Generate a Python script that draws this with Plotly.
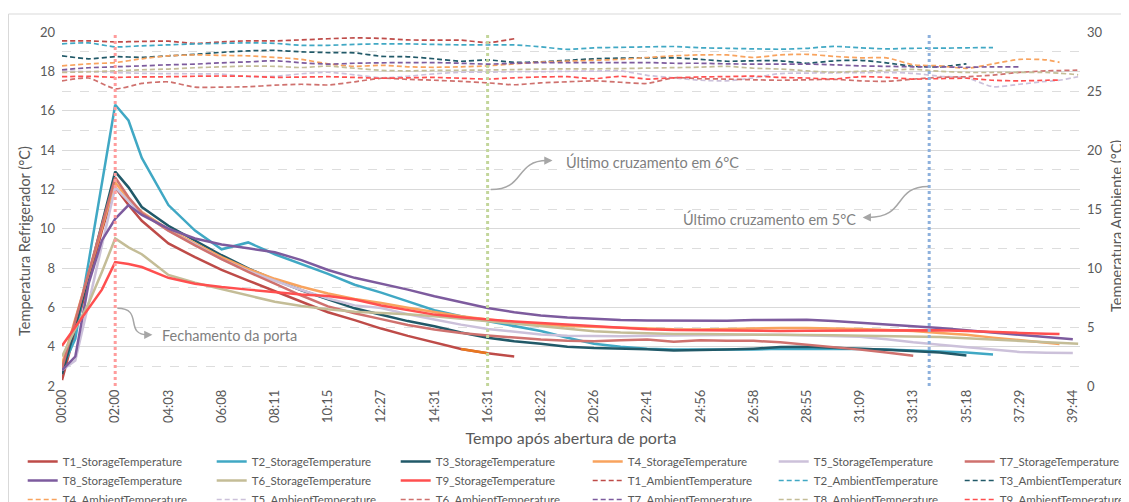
import plotly.graph_objects as go

# ---------------- data ----------------
time_labels = ["00:00", "02:00", "04:03", "06:08", "08:11", "10:15", "12:27", "14:31", "16:31", "18:22",
               "20:26", "22:41", "24:56", "26:58", "28:55", "31:09", "33:13", "35:18", "37:29", "39:44"]
tick_positions = list(range(len(time_labels)))

# sample positions (in units of the category-label spacing)
x_storage = [0, 0.25, 0.5, 0.75, 1, 1.25, 1.5, 2, 2.5, 3, 3.5, 4, 4.5, 5, 5.5, 6, 6.5, 7, 7.5, 8, 8.5,
             9, 9.5, 10, 10.5, 11, 11.5, 12, 12.5, 13, 13.5, 14, 14.5, 15, 15.5, 16, 16.5, 17, 17.5, 18,
             18.5, 18.75, 19, 19.1]
x_ambient = [0, 0.5, 1, 1.5, 2, 2.5, 3, 3.5, 4, 4.5, 5, 5.5, 6, 6.5, 7, 7.5, 8, 8.5, 9, 9.5, 10, 10.5,
             11, 11.5, 12, 12.5, 13, 13.5, 14, 14.5, 15, 15.5, 16, 16.5, 17, 17.5, 18, 18.5, 18.75, 19, 19.1]

T1_storage = [2.3, 4.8, 7.4, 9.9, 12.1, 11.2, 10.4, 9.25, 8.55, 7.9, 7.36, 6.82, 6.28, 5.75, 5.35, 4.92,
              4.55, 4.2, 3.88, 3.66, 3.5] + [None] * 23
T2_storage = [2.9, 4.4, 8.3, 12.3, 16.3, 15.5, 13.6, 11.2, 9.9, 8.95, 9.3, 8.7, 8.2, 7.7, 7.15, 6.75, 6.3,
              5.85, 5.55, 5.3, 5.05, 4.8, 4.45, 4.15, 4.0, 3.9, 3.85, 3.85, 3.85, 3.85, 3.9, 3.9, 3.9, 3.88,
              3.85, 3.8, 3.75, 3.7, 3.6] + [None] * 5
T3_storage = [2.6, 5.0, 7.6, 10.2, 12.9, 12.1, 11.1, 10.15, 9.4, 8.65, 7.98, 7.4, 6.87, 6.4, 5.95, 5.62, 5.3,
              5.04, 4.72, 4.45, 4.28, 4.15, 4.0, 3.93, 3.9, 3.87, 3.8, 3.82, 3.85, 3.9, 3.98, 4.0, 3.96, 3.9,
              3.84, 3.77, 3.7, 3.55] + [None] * 6
T4_storage = [3.1, 5.4, 7.7, 10.0, 12.35, 11.5, 10.85, 9.97, 9.25, 8.55, 7.95, 7.45, 7.05, 6.7, 6.42, 6.22,
              5.98, 5.75, 5.55, 5.38, 5.25, 5.12, 5.05, 5.0, 4.95, 4.9, 4.88, 4.87, 4.9, 4.92, 4.95, 4.95,
              4.93, 4.9, 4.85, 4.8, 4.7, 4.6, 4.46, 4.32, 4.2, 4.14] + [None] * 2
T5_storage = [2.8, 3.3, 6.2, 9.2, 12.1, 11.4, 10.8, 9.9, 9.2, 8.45, 7.85, 7.35, 6.88, 6.45, 6.1, 5.97, 5.65,
              5.38, 5.12, 4.9, 4.75, 4.62, 4.56, 4.53, 4.53, 4.55, 4.57, 4.6, 4.6, 4.61, 4.61, 4.58, 4.55,
              4.5, 4.38, 4.22, 4.1, 3.98, 3.87, 3.73, 3.69, 3.68, 3.68, None]
T7_storage = [2.9, 5.3, 7.7, 10.1, 12.6, 11.6, 10.8, 9.9, 9.15, 8.45, 7.8, 7.2, 6.6, 6.05, 5.7, 5.4, 5.1,
              4.87, 4.7, 4.57, 4.45, 4.36, 4.3, 4.28, 4.32, 4.36, 4.25, 4.32, 4.3, 4.3, 4.22, 4.1, 3.95,
              3.85, 3.7, 3.54] + [None] * 8
T8_storage = [2.8, 3.5, 7.2, 9.4, 10.5, 11.2, 10.7, 10.0, 9.5, 9.2, 9.0, 8.8, 8.4, 7.9, 7.5, 7.2, 6.9, 6.56,
              6.25, 5.97, 5.75, 5.58, 5.48, 5.4, 5.35, 5.33, 5.32, 5.32, 5.32, 5.35, 5.37, 5.37, 5.3, 5.22,
              5.13, 5.03, 4.95, 4.83, 4.71, 4.6, 4.5, 4.44, 4.38, None]
T6_storage = [3.5, 4.9, 6.2, 7.8, 9.5, 9.05, 8.7, 7.65, 7.25, 6.92, 6.58, 6.28, 6.07, 5.9, 5.78, 5.73, 5.65,
              5.55, 5.42, 5.29, 5.17, 5.04, 4.92, 4.79, 4.72, 4.67, 4.65, 4.64, 4.62, 4.61, 4.6, 4.59, 4.58,
              4.56, 4.54, 4.52, 4.49, 4.43, 4.37, 4.3, 4.23, 4.2, 4.17, 4.15]
T9_storage = [4.05, 5.0, 5.95, 6.9, 8.3, 8.2, 8.05, 7.5, 7.2, 7.03, 6.9, 6.78, 6.65, 6.57, 6.4, 6.09, 5.85,
              5.63, 5.5, 5.38, 5.28, 5.2, 5.12, 5.04, 4.95, 4.88, 4.85, 4.83, 4.81, 4.8, 4.8, 4.81, 4.82,
              4.83, 4.84, 4.85, 4.84, 4.8, 4.74, 4.7, 4.66, 4.64, None, None]

T1_ambient = [29.25, 29.25, 29.16, 29.2, 29.22, 29.04, 29.16, 29.25, 29.25, 29.33, 29.43, 29.5, 29.46, 29.33,
              29.31, 29.31, 29.1, 29.43] + [None] * 23
T2_ambient = [29.0, 29.08, 28.74, 28.83, 28.91, 28.99, 29.04, 29.08, 29.04, 28.87, 28.87, 28.95, 29.0, 28.99,
              28.95, 28.91, 28.9, 28.91, 28.74, 28.53, 28.66, 28.7, 28.74, 28.77, 28.66, 28.62, 28.57, 28.54,
              28.62, 28.78, 28.66, 28.57, 28.62, 28.63, 28.66, 28.68] + [None] * 5
T3_ambient = [27.98, 27.73, 27.91, 27.85, 27.98, 28.11, 28.28, 28.4, 28.44, 28.32, 28.26, 28.23, 27.94, 27.9,
              27.73, 27.52, 27.64, 27.43, 27.47, 27.6, 27.73, 27.79, 27.81, 27.81, 27.68, 27.52, 27.56, 27.56,
              27.35, 27.56, 27.6, 27.39, 27.09, 27.05, 27.3] + [None] * 6
T4_ambient = [27.13, 27.3, 27.41, 27.73, 27.98, 28.06, 28.02, 27.98, 27.85, 27.68, 27.3, 27.09, 27.18, 27.05,
              27.01, 27.05, 27.13, 27.3, 27.45, 27.53, 27.6, 27.68, 27.84, 27.98, 28.06, 28.06, 27.84, 28.06,
              28.11, 27.94, 27.81, 27.81, 27.22, 27.13, 26.92, 27.3, 27.68, 27.64, 27.43, None, None]
T5_ambient = [26.71, 26.64, 26.56, 26.5, 26.47, 26.46, 26.44, 26.21, 26.25, 26.46, 26.59, 26.37, 26.12, 26.25,
              26.46, 26.59, 26.6, 26.63, 26.64, 26.67, 26.69, 26.71, 26.33, 26.12, 25.91, 25.86, 26.12, 26.48,
              26.52, 26.54, 26.56, 26.57, 26.5, 26.25, 26.12, 25.36, 25.57, 25.82, 25.91, 26.12, 26.21]
T6_ambient = [25.86, 26.1, 25.19, 25.64, 25.78, 25.32, 25.33, 25.36, 25.49, 25.57, 25.51, 25.78, 26.08, 25.99,
              25.91, 25.82, 25.69, 25.53, 25.69, 25.78, 25.86, 25.74, 25.64, 26.12, 26.04, 26.01, 25.95, 25.91,
              25.95, 25.99, 25.86, 25.82, 26.01, 26.16, 26.21, 26.35, 26.58, 26.71, 26.73, 26.76, 26.78]
T7_ambient = [26.8, 26.97, 27.05, 27.13, 27.22, 27.28, 27.39, 27.47, 27.56, 27.39, 27.28, 27.35, 27.39, 27.41,
              27.41, 27.35, 27.28, 27.35, 27.41, 27.41, 27.41, 27.41, 27.41, 27.35, 27.35, 27.3, 27.28, 27.28,
              27.28, 27.22, 27.13, 27.09, 27.05, 27.05, 27.01, 27.05, 27.05] + [None] * 4
T8_ambient = [26.57, 26.63, 26.71, 26.8, 26.86, 26.97, 27.05, 27.11, 27.09, 26.99, 27.11, 26.93, 26.75, 26.71,
              26.74, 26.76, 26.78, 26.81, 26.86, 26.87, 26.88, 26.9, 26.94, 26.98, 27.02, 27.09, 26.93, 26.86,
              26.71, 26.59, 26.67, 26.75, 26.84, 26.67, 26.57, 26.57, 26.57, 26.57, 26.5, 26.42, 26.37]
T9_ambient = [26.21, 26.25, 26.16, 26.19, 26.21, 26.25, 26.27, 26.25, 26.16, 26.18, 26.21, 26.15, 26.08, 26.12,
              26.15, 26.08, 26.01, 26.12, 26.19, 26.21, 26.04, 26.25, 26.01, 26.12, 26.19, 26.22, 26.26, 26.15,
              26.1, 26.02, 26.21, 26.16, 26.01, 26.05, 26.08, 25.91, 25.86, 25.91, 25.93, None, None]

# highlighted stretch of T1 storage (drawn in orange)
t1_highlight_range = (7.5, 8.0)

# event markers (positions on the time axis)
door_close_x = 1.0
cross_6_x = 8.0
cross_5_x = 16.3

# ---------------- styling ----------------
FONT = "Lato, 'Open Sans', sans-serif"
TXT = "#595959"
ANN = "#7F7F7F"
ARROW = "#A6A6A6"

# page has an 8px body margin: figure pixels = screen pixels - 8
ML, MT, PW, PH = 54, 24, 1018, 354
W, H = 1129, 502
N_LEGEND_COLS = 6
legend_col_x = [14.7, 203.7, 387.7, 579.7, 765.7, 951.7]   # figure px of each legend column

storage_series = [
    ("T1_StorageTemperature", T1_storage, "#BE4B48"),
    ("T2_StorageTemperature", T2_storage, "#40A8C4"),
    ("T3_StorageTemperature", T3_storage, "#215968"),
    ("T4_StorageTemperature", T4_storage, "#F8A35E"),
    ("T5_StorageTemperature", T5_storage, "#CCC1DA"),
    ("T7_StorageTemperature", T7_storage, "#CF716E"),
    ("T8_StorageTemperature", T8_storage, "#7D5B9E"),
    ("T6_StorageTemperature", T6_storage, "#C4BD97"),
    ("T9_StorageTemperature", T9_storage, "#FF4F4F"),
]
ambient_series = [
    ("T1_AmbientTemperature", T1_ambient, "#BE4B48"),
    ("T2_AmbientTemperature", T2_ambient, "#40A8C4"),
    ("T3_AmbientTemperature", T3_ambient, "#215968"),
    ("T4_AmbientTemperature", T4_ambient, "#F8A35E"),
    ("T5_AmbientTemperature", T5_ambient, "#CCC1DA"),
    ("T6_AmbientTemperature", T6_ambient, "#CF716E"),
    ("T7_AmbientTemperature", T7_ambient, "#7D5B9E"),
    ("T8_AmbientTemperature", T8_ambient, "#C4BD97"),
    ("T9_AmbientTemperature", T9_ambient, "#FF4F4F"),
]


def legend_id(i):
    c = i % N_LEGEND_COLS
    return "legend" if c == 0 else f"legend{c + 1}"


fig = go.Figure()
k = 0
for name, vals, col in storage_series:
    fig.add_trace(go.Scatter(x=x_storage, y=vals, name=name, mode="lines",
                             line=dict(color=col, width=2.5), yaxis="y", legend=legend_id(k)))
    k += 1
for name, vals, col in ambient_series:
    fig.add_trace(go.Scatter(x=x_ambient, y=vals, name=name, mode="lines",
                             line=dict(color=col, width=1.7, dash="5px,3px", shape="spline", smoothing=0.6),
                             yaxis="y2", legend=legend_id(k)))
    k += 1

hx = [x for x, v in zip(x_storage, T1_storage) if v is not None and t1_highlight_range[0] <= x <= t1_highlight_range[1]]
hy = [v for x, v in zip(x_storage, T1_storage) if v is not None and t1_highlight_range[0] <= x <= t1_highlight_range[1]]
fig.add_trace(go.Scatter(x=hx, y=hy, mode="lines", line=dict(color="#E8781F", width=2.5),
                         showlegend=False, yaxis="y"))

# vertical event lines
for xv, col in [(door_close_x, "#FF9C9C"), (cross_6_x, "#C3D69B"), (cross_5_x, "#8DB0DC")]:
    fig.add_shape(type="line", xref="x", yref="paper", x0=xv, x1=xv, y0=0, y1=0.995,
                  line=dict(color=col, width=3, dash="dot"), layer="above")

# curved annotation arrows (left-axis data coordinates)
arrow_paths = [
    "M 1.04,5.95 C 1.55,5.95 1.15,4.6 1.62,4.6",
    "M 8.06,11.99 C 8.72,11.99 8.50,13.46 9.12,13.46",
    "M 16.28,12.14 C 15.62,12.14 15.88,10.57 15.16,10.57",
]
for p in arrow_paths:
    fig.add_shape(type="path", path=p, xref="x", yref="y", line=dict(color=ARROW, width=1.5), layer="above")

for hx_, hy_, ax in [(1.70, 4.6, -8), (9.22, 13.46, -8), (15.05, 10.57, 8)]:
    fig.add_annotation(x=hx_, y=hy_, xref="x", yref="y", ax=ax, ay=0, text="", showarrow=True,
                       arrowhead=2, arrowsize=1.1, arrowwidth=1.5, arrowcolor=ARROW, standoff=0)

ann_font = dict(family=FONT, size=14.5, color=ANN)
fig.add_annotation(x=1.84, y=4.59, xref="x", yref="y", text="Fechamento da porta", showarrow=False,
                   xanchor="left", yanchor="middle", font=ann_font)
fig.add_annotation(x=9.44, y=13.41, xref="x", yref="y", text="Último cruzamento em 6°C", showarrow=False,
                   xanchor="left", yanchor="middle", font=ann_font)
fig.add_annotation(x=14.96, y=10.47, xref="x", yref="y", text="Último cruzamento em 5°C", showarrow=False,
                   xanchor="right", yanchor="middle", font=ann_font)

# y-axis titles (rotated text placed beside the axes)
title_font = dict(family=FONT, size=14.5, color=TXT)
fig.add_annotation(xref="paper", yref="paper", x=(16 - ML) / PW, y=(MT + PH - 233) / PH,
                   text="Temperatura Refrigerador (°C)", textangle=-90, showarrow=False,
                   xanchor="center", yanchor="middle", font=title_font)
fig.add_annotation(xref="paper", yref="paper", x=(1109 - ML) / PW, y=(MT + PH - 218) / PH,
                   text="Temperatura Ambiente (°C)", textangle=-90, showarrow=False,
                   xanchor="center", yanchor="middle", font=title_font)

# chart border (figure pixels -> paper coordinates)
fig.add_shape(type="rect", xref="paper", yref="paper",
              x0=(0.5 - ML) / PW, x1=(1140 - ML) / PW,
              y0=(MT + PH - 520) / PH, y1=(MT + PH - 6) / PH,
              line=dict(color="#D9D9D9", width=1), fillcolor="rgba(0,0,0,0)", layer="below")

legend_layouts = {}
for c in range(N_LEGEND_COLS):
    key = "legend" if c == 0 else f"legend{c + 1}"
    legend_layouts[key] = dict(orientation="v", xref="container", yref="container",
                               x=legend_col_x[c] / W, y=1 - 439 / H, xanchor="left", yanchor="top",
                               font=dict(size=11.5, color=TXT), itemwidth=30, tracegroupgap=0,
                               bgcolor="rgba(0,0,0,0)")

fig.update_layout(
    width=W, height=H,
    margin=dict(l=ML, r=W - ML - PW, t=MT, b=H - MT - PH, autoexpand=False),
    paper_bgcolor="white", plot_bgcolor="white",
    font=dict(family=FONT, color=TXT),
    xaxis=dict(range=[0, 19.135], tickmode="array", tickvals=tick_positions, ticktext=time_labels,
               tickangle=-90, tickfont=dict(size=13, color=TXT), showgrid=False, zeroline=False,
               showline=False, ticks="",
               title=dict(text="Tempo após abertura de porta", font=dict(size=16, color=TXT), standoff=10)),
    yaxis=dict(range=[2, 20], dtick=2, tickfont=dict(size=13, color=TXT), showgrid=True,
               gridcolor="#D9D9D9", gridwidth=1, zeroline=False, showline=False, ticks="",
               ticklabelstandoff=6,
               minor=dict(dtick=1, showgrid=True, gridcolor="#DDDDDD", griddash="dash", gridwidth=1)),
    yaxis2=dict(range=[0, 30], dtick=5, overlaying="y", side="right", showgrid=False, zeroline=False,
                tickfont=dict(size=13, color=TXT), ticks="", ticklabelstandoff=6),
    showlegend=True,
    **legend_layouts,
)

fig.write_html("out.html")
